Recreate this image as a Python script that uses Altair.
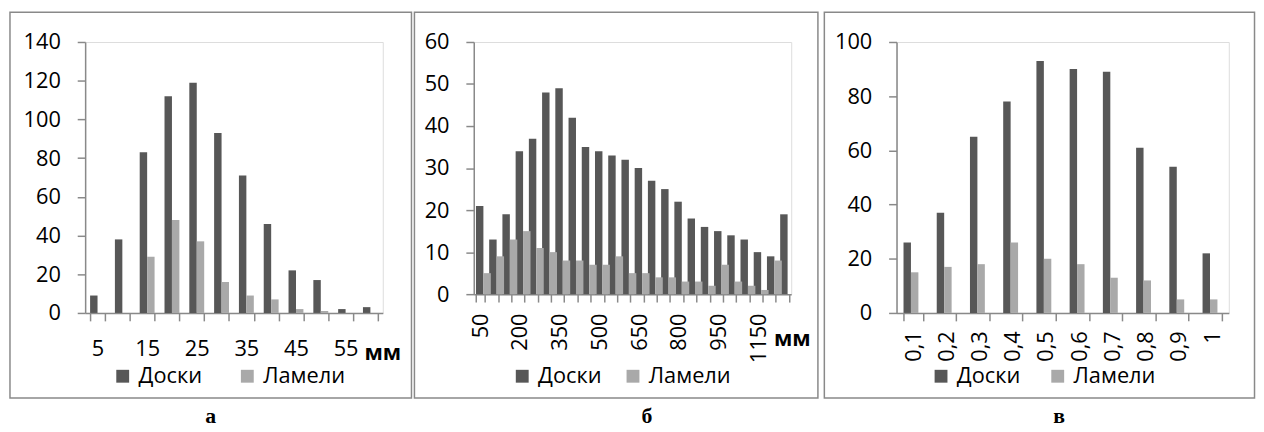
import altair as alt
import pandas as pd

SERIES = ["Доски", "Ламели"]
COLORS = ["#575757", "#a9a9a9"]
GRAY = "#898989"
FONT = "Open Sans"

# ---- panel а ----
cats_a = ["5", "10", "15", "20", "25", "30", "35", "40", "45", "50", "55", "60"]
doski_a = [9, 38, 83, 112, 119, 93, 71, 46, 22, 17, 2, 3]
lameli_a = [0, 0, 29, 48, 37, 16, 9, 7, 2, 1, 0, 0]
shown_a = ["5", "15", "25", "35", "45", "55"]
yticks_a = [0, 20, 40, 60, 80, 100, 120, 140]

# ---- panel б ----
cats_b = ["50", "100", "150", "200", "250", "300", "350", "400", "450", "500",
          "550", "600", "650", "700", "750", "800", "850", "900", "950", "1000",
          "1050", "1150", "1200", "1250"]
doski_b = [21, 13, 19, 34, 37, 48, 49, 42, 35, 34, 33, 32, 30, 27, 25, 22, 18, 16,
           15, 14, 13, 10, 9, 19]
lameli_b = [5, 9, 13, 15, 11, 10, 8, 8, 7, 7, 9, 5, 5, 4, 4, 3, 3, 2, 7, 3, 2, 1, 8, 0]
shown_b = ["50", "200", "350", "500", "650", "800", "950", "1150"]
yticks_b = [0, 10, 20, 30, 40, 50, 60]

# ---- panel в ----
cats_c = ["0,1", "0,2", "0,3", "0,4", "0,5", "0,6", "0,7", "0,8", "0,9", "1"]
doski_c = [26, 37, 65, 78, 93, 90, 89, 61, 54, 22]
lameli_c = [15, 17, 18, 26, 20, 18, 13, 12, 5, 5]
yticks_c = [0, 20, 40, 60, 80, 100]


def long_df(cats, d, l):
    rows = []
    for c, v in zip(cats, d):
        rows.append({"cat": c, "series": SERIES[0], "value": v})
    for c, v in zip(cats, l):
        rows.append({"cat": c, "series": SERIES[1], "value": v})
    return pd.DataFrame(rows)


def panel(cats, d, l, shown, yticks, w, h, pi, frame, legxy, colpad,
          xtitle, txy, angle, lpad, caption, cdx):
    df = long_df(cats, d, l)
    axis_kw = dict(
        labelAngle=angle, labelPadding=lpad, tickBand="extent", tickSize=8,
        labelOverlap=False, domainColor=GRAY, tickColor=GRAY,
        domainWidth=1.5, tickWidth=1.5, labelFontSize=22, labelColor="black",
        labelFont=FONT, grid=False,
    )
    if shown is not None:
        arr = ",".join("'%s'" % s for s in shown)
        axis_kw["labelExpr"] = "indexof([%s], datum.label) >= 0 ? datum.label : ''" % arr
    if xtitle:
        axis_kw.update(title=xtitle, titleX=txy[0], titleY=txy[1], titleAlign="left",
                       titleAngle=0, titleBaseline="alphabetic", titleFontWeight="bold",
                       titleFontSize=22, titleFont=FONT, titleColor="black")
    else:
        axis_kw["title"] = None
    bars = alt.Chart(df).mark_bar().encode(
        x=alt.X("cat:N", sort=cats,
                scale=alt.Scale(paddingInner=pi, paddingOuter=pi / 2),
                axis=alt.Axis(**axis_kw)),
        xOffset=alt.XOffset("series:N", sort=SERIES,
                            scale=alt.Scale(paddingInner=0, paddingOuter=0)),
        y=alt.Y("value:Q", scale=alt.Scale(domain=[yticks[0], yticks[-1]], nice=False),
                axis=alt.Axis(values=yticks, title=None, tickSize=8, labelPadding=17,
                              domainColor=GRAY, tickColor=GRAY, domainWidth=1.5,
                              tickWidth=1.5, labelFontSize=22, labelColor="black",
                              labelFont=FONT, grid=False)),
        color=alt.Color("series:N", sort=SERIES,
                        scale=alt.Scale(domain=SERIES, range=COLORS),
                        legend=alt.Legend(orient="none", legendX=legxy[0], legendY=legxy[1],
                                          direction="horizontal", title=None,
                                          labelFontSize=22, labelFont=FONT,
                                          labelColor="black",
                                          symbolType="square", symbolSize=169,
                                          symbolStrokeWidth=0, labelOffset=5,
                                          columnPadding=colpad)),
    )
    border = alt.Chart(pd.DataFrame({"k": [0]})).mark_rect(
        fillOpacity=0, stroke=GRAY, strokeWidth=1.5
    ).encode(
        x=alt.value(frame[0]), x2=alt.value(frame[1]),
        y=alt.value(frame[2]), y2=alt.value(frame[3]),
    )
    return alt.layer(border, bars).properties(
        width=w, height=h,
        title=alt.TitleParams(text=caption, orient="bottom", anchor="middle",
                              frame="bounds", font="Liberation Serif", fontSize=22,
                              fontWeight="bold", color="black", offset=8, dx=cdx),
    )


pa = panel(cats_a, doski_a, lameli_a, shown_a, yticks_a, 301, 274, 0.4,
           (-76, 330, -30, 360), (27, 327), 34, "мм", (282, 47), 0, 18, "а", 0)
pb = panel(cats_b, doski_b, lameli_b, shown_b, yticks_b, 321, 255, 0.33,
           (-60, 348, -30, 360), (38, 327), 20, "мм", (303, 52), 270, 11, "б", 31)
pc = panel(cats_c, doski_c, lameli_c, None, yticks_c, 336, 274, 0.42,
           (-73, 362, -30, 360), (34, 327), 26, None, None, 270, 10, "в", 20)

inner = alt.hconcat(pa, pb, spacing=-1).resolve_scale(
    x="independent", y="independent", color="independent"
).resolve_legend(color="independent")

chart = alt.hconcat(inner, pc, spacing=2.5).resolve_scale(
    x="independent", y="independent", color="independent"
).resolve_legend(color="independent").properties(
    padding={"left": 0, "top": 0, "right": 0, "bottom": 0}
).configure_view(stroke=None).configure(font=FONT)

chart.save("out.html", embed_options={"renderer": "svg", "actions": False})
